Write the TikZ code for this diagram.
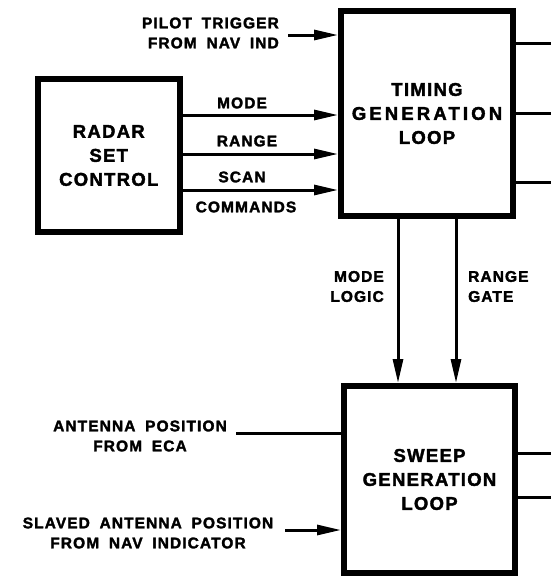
\documentclass[tikz,border=0pt]{standalone}
\usepackage{fontspec}
\setmainfont{Liberation Sans}[LetterSpace=7, WordSpace=1.8, FakeBold=2]
\newfontfamily\widefont{Liberation Sans}[LetterSpace=17, WordSpace=1.8, FakeBold=2]
\usetikzlibrary{arrows.meta, positioning, calc}

\begin{document}
\begin{tikzpicture}[
    x=1pt, y=-1pt,
    block/.style={draw, line width=6pt, rectangle, align=center, inner sep=0pt, font=\fontsize{18.5}{24}\selectfont\bfseries},
    lbl/.style={align=center, inner sep=0pt, font=\fontsize{15.5}{20}\selectfont\bfseries},
    line/.style={draw, line width=3pt},
    arrline/.style={draw, line width=3pt, -{Triangle[length=24pt, width=10pt]}}
]
    \useasboundingbox (0,0) rectangle (551,576);

    % Blocks
    \node[block, minimum width=172pt, minimum height=205pt] (timing) at (427,113.5) {TIMING\\{\widefont GENERATION}\\LOOP};
    \node[block, minimum width=142.5pt, minimum height=153pt] (radar) at (108.75,155.5) {RADAR\\SET\\CONTROL};
    \node[block, minimum width=171pt, minimum height=187pt] (sweep) at (429.5,479.5) {SWEEP\\GENERATION\\LOOP};

    % Pilot trigger input
    \node[lbl, align=right, anchor=east] (pilotlbl) at (279,33) {PILOT TRIGGER\\FROM NAV IND};
    \coordinate (pilot) at (288,35);
    \draw[arrline] (pilot) -- (pilot -| timing.west);

    % Radar set control to timing
    \foreach \yy in {115,154,190}
        \draw[arrline] (radar.east |- 0,\yy) -- (timing.west |- 0,\yy);
    \node[lbl] (modelbl) at (242,103) {MODE};
    \node[lbl] (rangelbl) at (247,141) {RANGE};
    \node[lbl] (scanlbl) at (242,177) {SCAN};
    \node[lbl] (cmdlbl) at (246,207) {COMMANDS};

    % Timing outputs
    \foreach \yy [count=\i] in {43,113,182} {
        \coordinate (tout\i) at (551,\yy);
        \draw[line] (timing.east |- tout\i) -- (tout\i);
    }

    % Timing to sweep
    \foreach \xx in {398,456}
        \draw[arrline] (timing.south -| \xx,0) -- (sweep.north -| \xx,0);
    \node[lbl, align=right, anchor=east] (logiclbl) at (384,286.5) {MODE\\LOGIC};
    \node[lbl, align=left, anchor=west] (gatelbl) at (468,286.5) {RANGE\\GATE};

    % Sweep inputs
    \node[lbl] (antlbl) at (140,436) {ANTENNA POSITION\\FROM ECA};
    \coordinate (ant) at (236,433);
    \draw[line] (ant) -- (ant -| sweep.west);
    \node[lbl] (slavelbl) at (148,533) {SLAVED ANTENNA POSITION\\FROM NAV INDICATOR};
    \coordinate (slave) at (285,530);
    \draw[arrline] (slave) -- (slave -| sweep.west);

    % Sweep outputs
    \foreach \yy [count=\i] in {453,497} {
        \coordinate (sout\i) at (551,\yy);
        \draw[line] (sweep.east |- sout\i) -- (sout\i);
    }
\end{tikzpicture}
\end{document}
